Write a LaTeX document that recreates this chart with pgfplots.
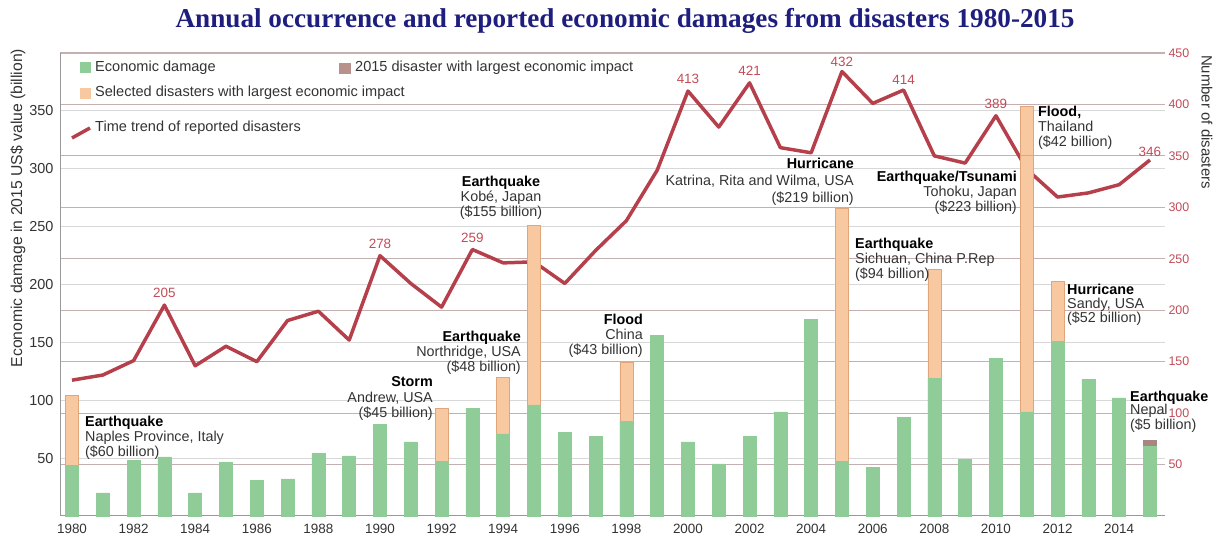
\documentclass[border=0pt]{standalone}
\usepackage{pgfplots}
\usepackage{pgfplotstable}
\pgfplotsset{compat=1.18}
\usepackage{fontspec}
\setmainfont{Liberation Sans}
\newfontfamily\titlefont{Liberation Serif}

\definecolor{dmggreen}{HTML}{8FCC98}
\definecolor{selorange}{HTML}{F8C9A1}
\definecolor{selborder}{HTML}{E0A57A}
\definecolor{yrmaroon}{HTML}{A8857F}
\definecolor{trendred}{HTML}{B5404B}
\definecolor{labred}{HTML}{C24B57}
\definecolor{gridleft}{HTML}{D8D8D8}
\definecolor{gridright}{HTML}{C4B0B0}
\definecolor{titleblue}{HTML}{1E1E7E}
\definecolor{txt}{HTML}{333333}

% economic damage, billion US$ (2015 value)
\pgfplotstableread{
year damage
1980 44
1981 20
1982 48
1983 51
1984 20
1985 46
1986 31
1987 32
1988 54
1989 52
1990 79
1991 64
1992 47
1993 93
1994 71
1995 96
1996 72
1997 69
1998 82
1999 156
2000 64
2001 45
2002 69
2003 90
2004 170
2005 47
2006 42
2007 85
2008 119
2009 49
2010 136
2011 90
2012 151
2013 118
2014 102
2015 60
}\damagetab

% top of the bar incl. the selected disaster
\pgfplotstableread{
year top
1980 104
1992 93
1994 120
1995 251
1998 133
2005 266
2008 213
2011 312
2012 203
}\selectedtab

% number of reported disasters
\pgfplotstableread{
year trend
1980 132
1981 137
1982 151
1983 205
1984 146
1985 165
1986 150
1987 190
1988 199
1989 171
1990 253
1991 226
1992 203
1993 259
1994 246
1995 247
1996 226
1997 258
1998 287
1999 336
2000 413
2001 378
2002 421
2003 358
2004 353
2005 432
2006 401
2007 414
2008 350
2009 343
2010 389
2011 337
2012 310
2013 314
2014 322
2015 346
}\trendtab

\tikzset{
  ann/.style={inner sep=0pt, font=\fontsize{14.4}{15.5}\selectfont, text=txt},
  leg/.style={inner sep=0pt, font=\fontsize{14.6}{16}\selectfont, text=txt},
  vlab/.style={inner sep=0pt, font=\fontsize{13.5}{15}\selectfont, text=labred, yshift=12bp},
}
\newcommand{\hd}[1]{\textbf{\color{black}#1}}

\begin{document}
\begin{tikzpicture}[x=1bp,y=1bp]
\useasboundingbox (0,0) rectangle (1216,537);

% right scale: grids and trend line
\begin{axis}[
  at={(60bp,21bp)}, anchor=south west,
  scale only axis, width=1105bp, height=463bp,
  xmin=1979.61, xmax=2015.49,
  ymin=0, ymax=450,
  axis x line=none,
  axis y line*=right,
  y axis line style={draw=none},
  ytick={50,100,...,450},
  ymajorgrids,
  grid style={gridright, line width=1.1bp},
  extra y ticks={56.25,112.5,168.75,225,281.25,337.5,393.75},
  extra y tick labels={},
  extra y tick style={grid=major, grid style={gridleft, line width=1.1bp}},
  major tick length=0pt,
  yticklabel style={font=\fontsize{12.5}{14}\selectfont, text=labred, xshift=0bp},
  /pgf/number format/assume math mode=true,
  clip=false,
]
\addplot[trendred, line width=3.5bp, line join=round] table[x=year, y=trend] {\trendtab};
\node[vlab] at (axis cs:1983,205) {205};
\node[vlab] at (axis cs:1990,253) {278};
\node[vlab] at (axis cs:1993,259) {259};
\node[vlab] at (axis cs:2000,413) {413};
\node[vlab] at (axis cs:2002,421) {421};
\node[vlab, yshift=-2bp] at (axis cs:2005,432) {432};
\node[vlab, yshift=-2bp] at (axis cs:2007,414) {414};
\node[vlab] at (axis cs:2010,389) {389};
\node[vlab, yshift=-4bp] at (axis cs:2015,346) {346};
\end{axis}

% left scale: bars
\begin{axis}[
  at={(60bp,21bp)}, anchor=south west,
  scale only axis, width=1105bp, height=463bp,
  xmin=1979.61, xmax=2015.49,
  ymin=0, ymax=400,
  axis x line*=bottom, axis y line*=left,
  axis line style={-, draw=black!40, line width=1bp},
  xtick={1980,1982,...,2014},
  ytick={50,100,...,350},
  major tick length=0pt,
  xticklabel style={font=\fontsize{13.5}{15}\selectfont, text=txt, yshift=-5bp},
  yticklabel style={font=\fontsize{14.5}{16}\selectfont, text=txt, xshift=-3bp},
  /pgf/number format/1000 sep={},
  /pgf/number format/assume math mode=true,
  ybar, bar width=13bp, bar shift=0pt,
  clip=false,
]
\addplot[fill=selorange, draw=selborder, line width=0.6bp] coordinates {(2011,354)};
\addplot[fill=selorange, draw=selborder, line width=0.6bp] table[x=year, y=top] {\selectedtab};
\addplot[fill=yrmaroon, draw=yrmaroon, line width=0.6bp] coordinates {(2015,65)};
\addplot[fill=dmggreen, draw=dmggreen, line width=0.6bp] table[x=year, y=damage] {\damagetab};
\end{axis}

% title and axis titles
\node[font=\titlefont\bfseries\fontsize{27.3}{31}\selectfont, text=titleblue] at (625,516)
  {Annual occurrence and reported economic damages from disasters 1980-2015};
\node[rotate=90, font=\fontsize{15.8}{17}\selectfont, text=txt] at (18,329)
  {Economic damage in 2015 US\$ value (billion)};
\node[rotate=-90, font=\fontsize{15}{16}\selectfont, text=txt] at (1207,415)
  {Number of disasters};

% legend
\fill[dmggreen] (80,464) rectangle (91,475);
\node[leg, anchor=west] at (95,469) {Economic damage};
\fill[yrmaroon!80!pink] (339,463) rectangle (351,474);
\node[leg, anchor=west] at (355,469) {2015 disaster with largest economic impact};
\fill[selorange] (80,438) rectangle (91,449);
\node[leg, anchor=west] at (95,444) {Selected disasters with largest economic impact};
\draw[trendred, line width=3.5bp] (72,399) -- (90,409);
\node[leg, anchor=west] at (95,409) {Time trend of reported disasters};

% annotations
\node[ann, anchor=north west, align=left] at (85,537-415.5)
  {\hd{Earthquake}\\Naples Province, Italy\\(\$60 billion)};
\node[ann, anchor=north east, align=right] at (433,537-376.5)
  {\hd{Storm}\\Andrew, USA\\(\$45 billion)};
\node[ann, anchor=north east, align=right] at (521,537-330.5)
  {\hd{Earthquake}\\Northridge, USA\\(\$48 billion)};
\node[ann, anchor=north, align=center] at (501,537-175.5)
  {\hd{Earthquake}\\Kobé, Japan\\(\$155 billion)};
\node[ann, anchor=north east, align=right] at (643,537-313.5)
  {\hd{Flood}\\China\\(\$43 billion)};
\node[ann, anchor=north east, align=right, font=\fontsize{14.4}{17.5}\selectfont] at (854,537-157.5)
  {\hd{Hurricane}\\Katrina, Rita and Wilma, USA\\(\$219 billion)};
\node[ann, anchor=north west, align=left] at (855,537-237.5)
  {\hd{Earthquake}\\Sichuan, China P.Rep\\(\$94 billion)};
\node[ann, anchor=north east, align=right] at (1017,537-170.5)
  {\hd{Earthquake/Tsunami}\\Tohoku, Japan\\(\$223 billion)};
\node[ann, anchor=north west, align=left] at (1038,537-105.5)
  {\hd{Flood,}\\Thailand\\(\$42 billion)};
\node[ann, anchor=north west, align=left, font=\fontsize{14.4}{14.5}\selectfont] at (1067,537-283.5)
  {\hd{Hurricane}\\Sandy, USA\\(\$52 billion)};
\node[ann, anchor=north west, align=left, font=\fontsize{14.4}{13.5}\selectfont] at (1130,537-390.5)
  {\hd{Earthquake}\\Nepal\\(\$5 billion)};
\end{tikzpicture}
\end{document}
